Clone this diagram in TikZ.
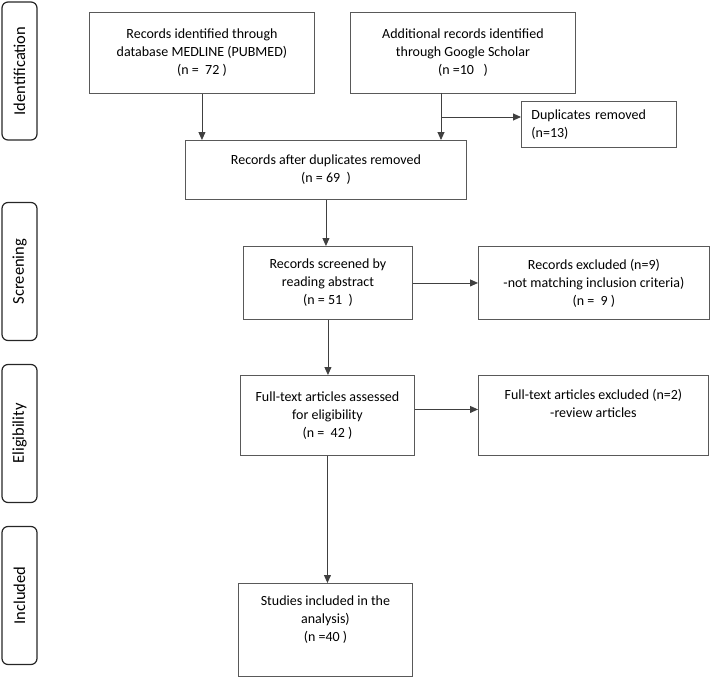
\documentclass[tikz,border=0pt]{standalone}
\usepackage{fontspec}
\setmainfont{Carlito}
\usetikzlibrary{arrows.meta}

\begin{document}
\begin{tikzpicture}[x=1pt, y=-1pt,
    box style/.style={draw=black!65, line width=0.9pt, anchor=north west, inner sep=0pt,
        align=center, font=\fontsize{14}{18}\selectfont},
    stage style/.style={draw=black!85, line width=1.2pt, rounded corners=6pt, rotate=90,
        minimum width=138pt, minimum height=35pt, inner sep=0pt, font=\fontsize{16.5}{20}\selectfont},
    arrow style/.style={draw=black!75, line width=0.9pt, -{Triangle[length=8pt, width=7pt]}},]
    \useasboundingbox (0,0) rectangle (710,677);

    % stages on the left
    \node[style=stage style] (identification) at (19.5,71) {Identification};
    \node[style=stage style] (screening) at (19.5,271.5) {Screening};
    \node[style=stage style] (eligibility) at (19.5,433.5) {Eligibility};
    \node[style=stage style] (included) at (19.5,595.5) {Included};

    % boxes
    \node[style=box style, minimum width=225, minimum height=81] (medline) at (89,12)
        {Records identified through\\ database MEDLINE (PUBMED)\\ (n =\ \ 72 )};
    \node[style=box style, minimum width=225, minimum height=81] (google) at (350,12)
        {Additional records identified\\ through Google Scholar\\ (n =10\ \ \ )};
    \node[style=box style, minimum height=46, text width=135, inner xsep=10pt, align=left] (dup) at (521,101)
        {Duplicates removed\\ (n=13)};
    \node[style=box style, minimum width=281, minimum height=59] (after) at (185,140)
        {Records after duplicates removed\\ (n = 69\ \ )};
    \node[style=box style, minimum width=169, minimum height=73] (screened) at (243,246)
        {Records screened by\\ reading abstract\\ (n = 51\ \ )};
    \node[style=box style, minimum width=231, minimum height=73] (excl) at (478,246)
        {Records excluded (n=9)\\ -not matching inclusion criteria)\\ (n =\ \ 9 )};
    \node[style=box style, minimum width=174, minimum height=80] (fulltext) at (240,375)
        {Full-text articles assessed\\ for eligibility\\ (n =\ \ 42 )};
    \node[style=box style, minimum width=230, minimum height=80] (ftexcl) at (478,375)
        {Full-text articles excluded (n=2)\\ -review articles\\ \strut};
    \node[style=box style, minimum width=174, minimum height=93] (studies) at (238,583)
        {Studies included in the\\ analysis)\\ (n =40 )\\ \strut};

    \coordinate (gdown) at (441,93);
    \coordinate (gbranch) at (441,117);
    \coordinate (ftout) at ([yshift=6pt]fulltext.east);

    % arrows
    \draw[style=arrow style] (medline.south) -- (medline.south |- after.north);
    \draw[style=arrow style] (gdown) -- (gdown |- after.north);
    \draw[style=arrow style] (gbranch) -- (gbranch -| dup.west);
    \draw[style=arrow style] (after.south) -- (after.south |- screened.north);
    \draw[style=arrow style] (screened.east) -- (excl.west);
    \draw[style=arrow style] (screened.south) -- (screened.south |- fulltext.north);
    \draw[style=arrow style] (ftout) -- (ftout -| ftexcl.west);
    \draw[style=arrow style] (fulltext.south) -- (fulltext.south |- studies.north);

\end{tikzpicture}
\end{document}
